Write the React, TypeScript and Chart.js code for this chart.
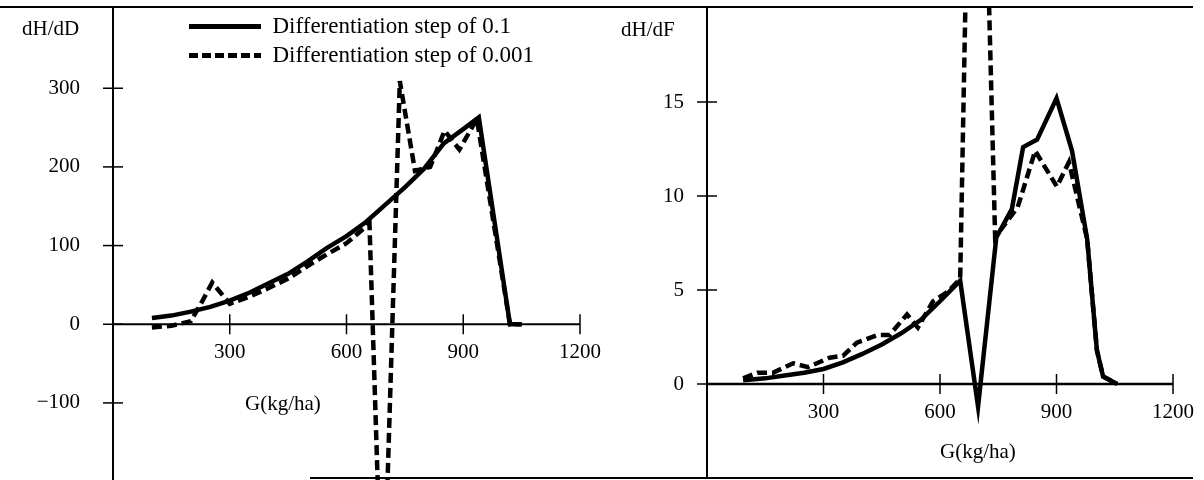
import React, { useEffect, useRef } from 'react';
import { Chart, registerables } from 'chart.js';

Chart.register(...registerables);

const FONT = 'Liberation Serif';

// ---- text / ticks ----
const seriesNames = ['Differentiation step of 0.1', 'Differentiation step of 0.001'];
const leftYTitle = 'dH/dD';
const rightYTitle = 'dH/dF';
const xTitle = 'G(kg/ha)';
const xTickValues = [300, 600, 900, 1200];
const xTickLabels = ['300', '600', '900', '1200'];
const leftYTickValues = [-100, 0, 100, 200, 300];
const leftYTickLabels = ['\u2212100', '0', '100', '200', '300'];
const rightYTickValues = [0, 5, 10, 15];
const rightYTickLabels = ['0', '5', '10', '15'];

// ---- left panel: dH/dD ----
const leftSolidG = [100, 150, 200, 250, 300, 350, 400, 450, 500, 550, 600, 650, 700, 750, 800, 850, 900, 940, 1020, 1050];
const leftSolidV = [8, 11, 16, 22, 30, 40, 52, 64, 80, 97, 112, 130, 152, 174, 198, 230, 248, 263, 0, 0];
const leftDashG = [100, 150, 200, 228, 255, 280, 300, 350, 400, 450, 500, 550, 600, 659, 693, 737, 776, 815, 852, 890, 935, 1020, 1050];
const leftDashV = [-4, -2, 4, 28, 53, 38, 26, 35, 46, 58, 74, 89, 103, 128, -400, 309, 195, 200, 246, 222, 261, 0, 0];

// ---- right panel: dH/dF ----
const rightSolidG = [93, 150, 200, 250, 300, 350, 400, 450, 500, 550, 600, 652, 698, 745, 785, 814, 850, 900, 940, 979, 1004, 1020, 1056];
const rightSolidV = [0.2, 0.3, 0.45, 0.6, 0.8, 1.15, 1.6, 2.1, 2.7, 3.4, 4.4, 5.5, -1.2, 7.8, 9.3, 12.6, 13.0, 15.2, 12.4, 7.7, 1.8, 0.4, 0];
const rightDashG = [93, 130, 170, 222, 260, 316, 350, 386, 438, 470, 515, 543, 582, 620, 652, 691, 742, 800, 845, 901, 932, 979, 1004, 1020, 1056];
const rightDashV = [0.3, 0.6, 0.6, 1.1, 0.9, 1.4, 1.5, 2.2, 2.6, 2.6, 3.7, 3.0, 4.4, 4.9, 5.6, 48, 7.8, 9.4, 12.4, 10.5, 11.8, 7.7, 1.8, 0.4, 0];

function pts(g: number[], v: number[]) {
  return g.map((x, i) => ({ x, y: v[i] }));
}

const crossAxes = {
  id: 'crossAxes',
  afterDatasetsDraw(chart: any, _args: any, opts: any) {
    const { ctx, chartArea } = chart;
    const xs = chart.scales.x;
    const ys = chart.scales.y;
    const x0 = xs.getPixelForValue(0);
    const y0 = ys.getPixelForValue(0);
    ctx.save();
    ctx.strokeStyle = '#000';
    ctx.lineCap = 'butt';
    const line = (a: number, b: number, c: number, d: number) => {
      ctx.beginPath();
      ctx.moveTo(a, b);
      ctx.lineTo(c, d);
      ctx.stroke();
    };
    ctx.lineWidth = 2;
    line(x0, chartArea.top, x0, chartArea.bottom);
    ctx.lineWidth = opts.xAxisWidth || 2;
    line(x0, y0, xs.getPixelForValue(xs.max), y0);
    ctx.lineWidth = 1.5;
    ys.ticks.forEach((t: any) => {
      const p = ys.getPixelForValue(t.value);
      line(x0 - 10, p, x0 + 10, p);
    });
    xs.ticks.forEach((t: any) => {
      const p = xs.getPixelForValue(t.value);
      line(p, y0 - 10, p, y0 + 10);
    });
    ctx.restore();
  },
};

const legendShift = {
  id: 'legendShift',
  afterLayout(chart: any, _args: any, opts: any) {
    if (chart.legend && opts) {
      if (typeof opts.left === 'number') chart.legend.left = opts.left;
      if (typeof opts.dy === 'number') chart.legend.top += opts.dy;
    }
  },
};

function makeConfig(side: 'left' | 'right') {
  const isLeft = side === 'left';
  const solid = isLeft ? pts(leftSolidG, leftSolidV) : pts(rightSolidG, rightSolidV);
  const dash = isLeft ? pts(leftDashG, leftDashV) : pts(rightDashG, rightDashV);
  const yVals = isLeft ? leftYTickValues : rightYTickValues;
  const yLabs = isLeft ? leftYTickLabels : rightYTickLabels;
  const tickFont = { family: FONT, size: 21 };
  return {
    type: 'line',
    data: {
      datasets: [
        {
          label: seriesNames[0],
          data: solid,
          borderColor: '#000',
          backgroundColor: '#000',
          borderWidth: 4.5,
          pointRadius: 0,
          tension: 0,
          fill: false,
        },
        {
          label: seriesNames[1],
          data: dash,
          borderColor: '#000',
          backgroundColor: '#000',
          borderWidth: 4.5,
          borderDash: [10, 5],
          pointRadius: 0,
          tension: 0,
          fill: false,
        },
      ],
    },
    options: {
      responsive: false,
      animation: false,
      events: [],
      layout: {
        padding: isLeft
          ? { left: 0, right: 60, top: 8, bottom: 0 }
          : { left: 0, right: 31, top: 8, bottom: 2 },
      },
      scales: {
        x: {
          type: 'linear',
          position: { y: 0 },
          min: 0,
          max: 1200,
          afterBuildTicks: (s: any) => {
            s.ticks = xTickValues.map((v) => ({ value: v }));
          },
          afterFit: (s: any) => {
            s.paddingLeft = 0;
            s.paddingRight = 0;
          },
          ticks: {
            padding: 16,
            color: '#000',
            font: tickFont,
            maxRotation: 0,
            autoSkip: false,
            callback: (v: number) => xTickLabels[xTickValues.indexOf(v)] ?? '',
          },
          grid: { display: false, drawTicks: false },
          border: { display: false },
        },
        y: {
          type: 'linear',
          position: 'left',
          min: isLeft ? -198 : -5,
          max: isLeft ? 402 : 20,
          afterBuildTicks: (s: any) => {
            s.ticks = yVals.map((v) => ({ value: v }));
          },
          afterFit: (s: any) => {
            s.width = isLeft ? 113 : 107;
            s.paddingTop = 0;
            s.paddingBottom = 0;
          },
          ticks: {
            padding: isLeft ? 33 : 23,
            color: '#000',
            font: tickFont,
            autoSkip: false,
            callback: (v: number) => yLabs[yVals.indexOf(v)] ?? '',
          },
          grid: { display: false, drawTicks: false },
          border: { display: false },
        },
      },
      plugins: {
        tooltip: { enabled: false },
        legend: {
          display: isLeft,
          position: 'chartArea',
          align: 'start',
          labels: {
            usePointStyle: true,
            pointStyleWidth: 72,
            padding: 6,
            color: '#000',
            font: { family: FONT, size: 23 },
            generateLabels: (chart: any) =>
              chart.data.datasets.map((ds: any, i: number) => ({
                text: ds.label,
                fillStyle: '#000',
                strokeStyle: '#000',
                fontColor: '#000',
                lineWidth: 5,
                lineDash: i === 0 ? [] : [9, 4],
                pointStyle: 'line',
                hidden: false,
                datasetIndex: i,
              })),
          },
        },
        legendShift: { left: 183, dy: 9 },
        crossAxes: { xAxisWidth: isLeft ? 2 : 2.5 },
      },
    },
    plugins: [crossAxes, legendShift],
  };
}

function Panel({ side, left, width }: { side: 'left' | 'right'; left: number; width: number }) {
  const ref = useRef<HTMLCanvasElement | null>(null);
  useEffect(() => {
    const chart = new Chart(ref.current as HTMLCanvasElement, makeConfig(side) as any);
    return () => chart.destroy();
  }, [side]);
  return (
    <canvas
      ref={ref}
      width={width}
      height={480}
      style={{ position: 'absolute', left, top: 0, width, height: 480 }}
    />
  );
}

const textStyle: React.CSSProperties = {
  position: 'absolute',
  fontFamily: FONT,
  fontSize: 21,
  lineHeight: '21px',
  color: '#000',
  whiteSpace: 'nowrap',
};

export default function App() {
  return (
    <div
      style={{
        position: 'absolute',
        left: 0,
        top: 0,
        width: 1204,
        height: 480,
        background: '#fff',
        overflow: 'hidden',
      }}
    >
      <Panel side="left" left={0} width={640} />
      <Panel side="right" left={600} width={604} />
      <div style={{ ...textStyle, left: 22, top: 18 }}>{leftYTitle}</div>
      <div style={{ ...textStyle, left: 621, top: 19 }}>{rightYTitle}</div>
      <div style={{ ...textStyle, left: 245, top: 393 }}>{xTitle}</div>
      <div style={{ ...textStyle, left: 940, top: 441 }}>{xTitle}</div>
      <div style={{ position: 'absolute', left: 0, top: 6, width: 1193, height: 2, background: '#000' }} />
      <div style={{ position: 'absolute', left: 310, top: 477, width: 883, height: 2, background: '#000' }} />
    </div>
  );
}
